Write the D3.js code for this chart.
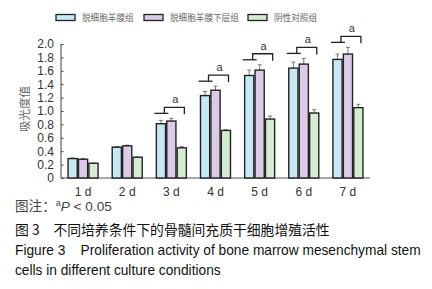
<!DOCTYPE html>
<html><head><meta charset="utf-8">
<script src="https://cdn.jsdelivr.net/npm/d3@7"></script>
<style>body{margin:0;background:#fff;} svg{display:block;}</style>
</head><body>
<svg id="c" width="432" height="289"></svg>
<script>
const categories = ["1 d","2 d","3 d","4 d","5 d","6 d","7 d"];
const seriesNames = ["脱细胞羊膜组","脱细胞羊膜下层组","阴性对照组"];
const acellularAmnion = [0.29,0.46,0.81,1.23,1.53,1.64,1.77];
const acellularSublayer = [0.28,0.48,0.85,1.31,1.61,1.70,1.85];
const negativeControl = [0.22,0.31,0.45,0.71,0.88,0.97,1.05];
const errAmnion = [0.01,0.01,0.05,0.06,0.08,0.09,0.08];
const errSublayer = [0.01,0.01,0.04,0.06,0.08,0.085,0.10];
const errControl = [0.005,0.005,0.02,0.01,0.045,0.05,0.05];
const significant = ["3 d","4 d","5 d","6 d","7 d"];
const yTicks = [0,0.2,0.4,0.6,0.8,1.0,1.2,1.4,1.6,1.8,2.0];
const colors = ["#c8e8f6","#dccbe7","#d5ebd2"];

const svg = d3.select("#c");
const x0 = d3.scaleBand().domain(categories).range([61,370]).padding(0);
const x1 = d3.scaleBand().domain([0,1,2]).range([-15,15]).paddingInner(0.12);
const y = d3.scaleLinear().domain([0,2]).range([178,44]);

const vals = [acellularAmnion, acellularSublayer, negativeControl];
const errs = [errAmnion, errSublayer, errControl];

// legend
const legX = [56,144,248];
seriesNames.forEach((n,i)=>{
  svg.append("rect").attr("x",legX[i]).attr("y",14.5).attr("width",19).attr("height",6)
    .attr("fill",colors[i]).attr("stroke","#222").attr("stroke-width",1.3);
  svg.append("text").attr("x",legX[i]+26).attr("y",21).text(n)
    .attr("font-family","Noto Sans CJK SC").attr("font-size",8.6).attr("fill","#666");
});

// y axis
const yAxis = d3.axisRight(y).tickValues(yTicks).tickSize(2.5)
  .tickFormat(d=> d===0 ? "0" : d3.format(".1f")(d));
const ga = svg.append("g").attr("transform","translate(61,0)").call(yAxis);
ga.select(".domain").attr("stroke","#444").attr("d","M0,44V178");
ga.selectAll(".tick line").attr("stroke","#444");
ga.selectAll(".tick text").attr("x",-7).attr("text-anchor","end")
  .attr("font-family","Liberation Sans, Arial").attr("font-size",12).attr("fill","#333");

// x axis
const xAxis = d3.axisBottom(x0).tickSize(0).tickPadding(9);
const gx = svg.append("g").attr("transform","translate(0,178)").call(xAxis);
gx.select(".domain").attr("stroke","#555").attr("d","M61,0H370");
gx.selectAll(".tick text").attr("font-family","Liberation Sans, Arial").attr("font-size",12).attr("fill","#333");

// y label
svg.append("text").attr("transform","translate(29,109) rotate(-90)")
  .attr("text-anchor","middle").text("吸光度值")
  .attr("font-family","Noto Sans CJK SC").attr("font-size",11.5).attr("fill","#666");

// bars
categories.forEach((c,ci)=>{
  const cx = x0(c)+x0.bandwidth()/2;
  vals.forEach((v,si)=>{
    const bx = cx + x1(si);
    const bw = x1.bandwidth();
    const et = y(v[ci]+errs[si][ci]);
    const mid = bx+bw/2;
    svg.append("line").attr("x1",mid).attr("x2",mid).attr("y1",y(v[ci])).attr("y2",et).attr("stroke","#777").attr("stroke-width",1);
    svg.append("line").attr("x1",mid-2).attr("x2",mid+2).attr("y1",et).attr("y2",et).attr("stroke","#777").attr("stroke-width",1);
    svg.append("rect").attr("x",bx).attr("y",y(v[ci])).attr("width",bw).attr("height",y(0)-y(v[ci]))
      .attr("fill",colors[si]).attr("stroke","#222").attr("stroke-width",1.4);
  });
});

// significance brackets
significant.forEach(c=>{
  const ci = categories.indexOf(c);
  const cx = x0(c)+x0.bandwidth()/2;
  const top = Math.min(...vals.map((v,si)=>y(v[ci]+errs[si][ci])));
  const low = top-5, up = low-6;
  const g = svg.append("g").attr("stroke","#222").attr("stroke-width",1.3).attr("fill","none");
  g.append("path").attr("d",`M${cx-17},${low}H${cx-3}`);
  g.append("path").attr("d",`M${cx-7},${low}V${up}H${cx+13}V${low+1}`);
  svg.append("text").attr("x",cx+4).attr("y",up-4).attr("text-anchor","middle").text("a")
    .attr("font-family","Liberation Sans, Arial").attr("font-size",11).attr("fill","#333");
});

// captions, font size fitted to the reference line widths
function fit(sel, target){
  const w = sel.node().getComputedTextLength();
  const fs = parseFloat(sel.attr("font-size"));
  sel.attr("font-size", fs*target/w);
}
const cap = svg.append("g");
const t1 = cap.append("text").attr("x",15).attr("y",211).attr("font-size",13).attr("fill","#444")
  .attr("font-family","Noto Sans CJK SC");
t1.append("tspan").text("图注：");
t1.append("tspan").text("a").attr("font-family","Liberation Sans").attr("font-size",9).attr("dy",-5);
t1.append("tspan").text("P").attr("font-family","Liberation Sans").attr("font-style","italic").attr("dy",5);
t1.append("tspan").text(" < 0.05").attr("font-family","Liberation Sans");
fit(t1, 97);
const t2 = cap.append("text").attr("x",15).attr("y",235).attr("font-size",14).attr("fill","#111")
  .attr("font-family","Noto Sans CJK SC").attr("xml:space","preserve").text("图 3　不同培养条件下的骨髓间充质干细胞增殖活性");
fit(t2, 315);
const t3 = cap.append("text").attr("x",15).attr("y",255).attr("font-size",14).attr("fill","#111")
  .attr("font-family","Liberation Sans, Arial").attr("xml:space","preserve").text("Figure 3    Proliferation activity of bone marrow mesenchymal stem");
fit(t3, 406);
const t4 = cap.append("text").attr("x",15).attr("y",275).attr("font-size",14).attr("fill","#111")
  .attr("font-family","Liberation Sans, Arial").text("cells in different culture conditions");
t4.attr("font-size", t3.attr("font-size"));
</script>
</body></html>
